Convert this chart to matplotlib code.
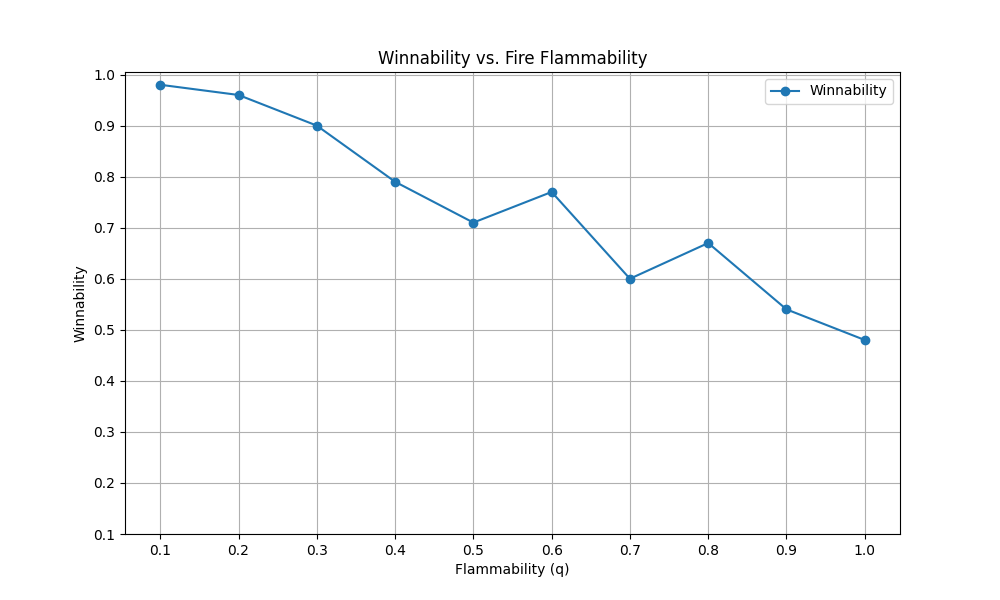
import matplotlib
matplotlib.use("Agg")
import matplotlib.pyplot as plt

q = [0.1, 0.2, 0.3, 0.4, 0.5, 0.6, 0.7, 0.8, 0.9, 1.0]
winnability = [0.98, 0.96, 0.90, 0.79, 0.71, 0.77, 0.60, 0.67, 0.54, 0.48]

fig, ax = plt.subplots(figsize=(10, 6), dpi=100)
ax.plot(q, winnability, marker='o', label='Winnability')
ax.set_title('Winnability vs. Fire Flammability')
ax.set_xlabel('Flammability (q)')
ax.set_ylabel('Winnability')
ax.set_xticks(q)
ax.set_ylim(bottom=0.1)
ax.set_yticks([0.1, 0.2, 0.3, 0.4, 0.5, 0.6, 0.7, 0.8, 0.9, 1.0])
ax.grid(True)
ax.legend()
fig.savefig('out.png')
